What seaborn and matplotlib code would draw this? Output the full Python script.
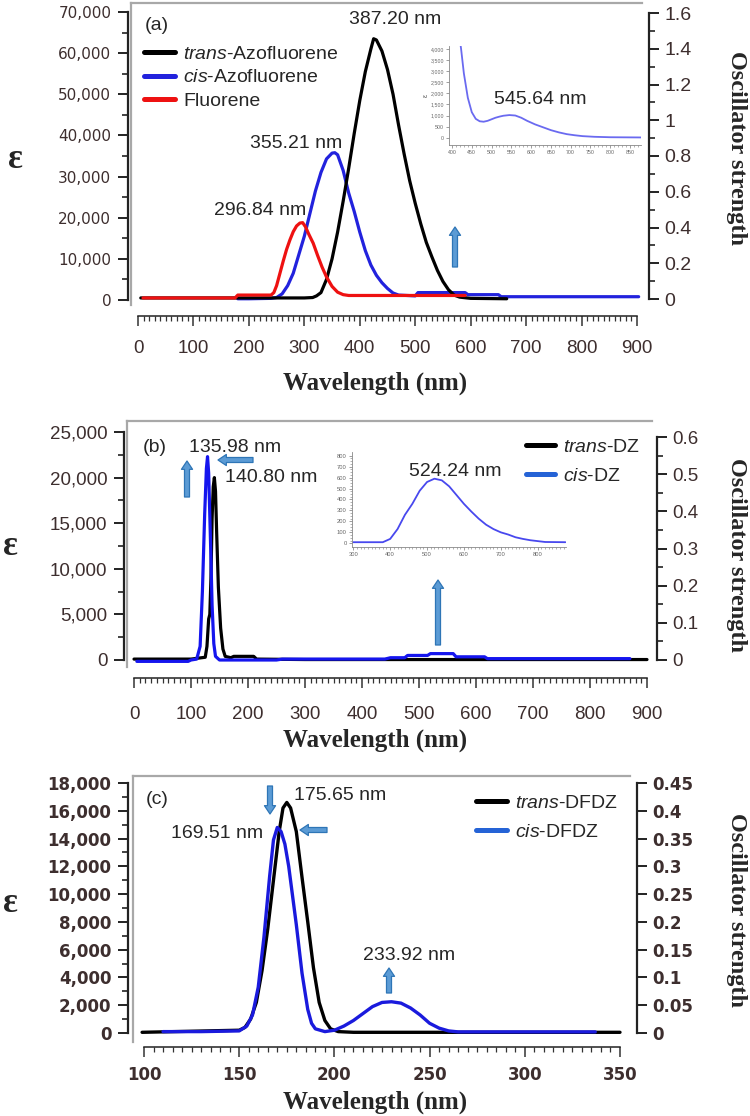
import numpy as np
import pandas as pd
import seaborn as sb
import matplotlib
matplotlib.use("Agg")
import matplotlib.pyplot as plt
from matplotlib.patches import FancyArrowPatch

W, H = 750, 1116

# ---------------- data ----------------
# (a) azofluorene / fluorene
a_trans_nm = [5, 100, 200, 300, 315, 322, 330, 340, 350, 360, 370, 380, 390, 400, 410, 420, 425,
              430, 440, 450, 460, 470, 480, 490, 500, 510, 520, 530, 540, 550, 560, 570, 580, 600, 665]
a_trans_eps = [500, 500, 500, 500, 600, 1000, 1800, 5000, 10000, 16500, 24000, 32000, 40500, 48500,
               55500, 61000, 63500, 63200, 60500, 56000, 50000, 42500, 35500, 29000, 23500, 18500,
               14000, 10500, 7200, 4500, 2500, 1200, 700, 400, 300]
a_cis_nm = [180, 200, 240, 250, 260, 270, 280, 290, 300, 310, 320, 330, 340, 350, 355, 360, 370, 380,
            390, 400, 410, 420, 430, 440, 450, 460, 470, 500, 505, 590, 595, 650, 655, 903]
a_cis_eps = [300, 300, 400, 600, 1500, 3500, 6500, 11000, 15500, 21000, 26500, 31000, 34300, 35700,
             35800, 35300, 31500, 26000, 21500, 16500, 12000, 8500, 6000, 4200, 2800, 1700, 1200, 1000,
             1800, 1800, 1300, 1300, 800, 800]
a_flu_nm = [9, 175, 180, 240, 245, 250, 256, 262, 268, 274, 280, 286, 292, 297, 302, 308, 316, 324,
            332, 340, 350, 360, 370, 380, 590]
a_flu_eps = [500, 500, 1200, 1200, 1800, 3500, 6500, 9500, 12300, 14600, 16600, 18000, 18700, 18800,
             17800, 16000, 13800, 10800, 8000, 5600, 3300, 1900, 1300, 1100, 1100]
# inset of (a): cis-azofluorene visible band
a_ins_nm = [420, 423, 430, 440, 450, 460, 470, 480, 490, 500, 510, 520, 530, 545, 560, 575, 590, 610,
            630, 650, 670, 690, 710, 730, 760, 800, 880]
a_ins_eps = [4400, 4000, 2900, 1800, 1150, 850, 740, 720, 760, 830, 900, 950, 990, 1020, 1000, 900,
             760, 600, 470, 340, 240, 160, 110, 70, 40, 20, 10]

# (b) DZ
b_trans_nm = [0, 100, 125, 128, 131, 133, 135, 137, 139, 141, 143, 145, 148, 152, 156, 160, 170,
              175, 210, 215, 300, 900]
b_trans_eps = [100, 100, 300, 1500, 4500, 5000, 9000, 15500, 19000, 20000, 18500, 14000, 8000,
               3500, 1200, 400, 250, 400, 400, 100, 50, 50]
b_cis_nm = [5, 95, 100, 110, 116, 120, 124, 127, 129, 131, 134, 137, 140, 143, 150, 250, 260, 440,
            450, 475, 480, 515, 520, 560, 565, 615, 620, 870]
b_cis_eps = [-150, -150, 0, 100, 1500, 7500, 16000, 21000, 22300, 20500, 13500, 6000, 1800, 400, 0,
             0, 100, 100, 250, 250, 500, 500, 700, 700, 350, 350, 150, 150]
b_ins_nm = [300, 380, 400, 420, 440, 460, 480, 500, 520, 540, 560, 580, 600, 620, 640, 660, 680, 700,
            720, 740, 760, 780, 800, 820, 875]
b_ins_eps = [10, 10, 40, 130, 260, 360, 480, 560, 590, 575, 520, 440, 360, 290, 225, 170, 130, 100,
             80, 55, 40, 28, 20, 12, 10]

# (c) DFDZ
c_trans_nm = [99, 150, 153, 156, 159, 162, 165, 168, 171, 173, 175, 177, 180, 183, 186, 189, 192,
              195, 198, 202, 210, 350]
c_trans_eps = [50, 200, 400, 1000, 2200, 4500, 7500, 11000, 14500, 16200, 16600, 16200, 14500,
               11200, 8000, 4700, 2200, 900, 300, 100, 50, 50]
c_cis_nm = [110, 130, 150, 154, 157, 160, 163, 166, 168, 170, 172, 174, 176, 178, 180, 183, 186, 188,
            190, 195, 200, 205, 210, 215, 220, 225, 230, 235, 240, 245, 250, 255, 260, 265, 337]
c_cis_eps = [100, 100, 150, 500, 1300, 3300, 6900, 11300, 13900, 14800, 14500, 13600, 12000, 9900,
             7800, 4300, 1700, 700, 300, 100, 200, 500, 900, 1400, 1900, 2200, 2250, 2150, 1800, 1300,
             700, 350, 150, 80, 80]

# ---------------- style ----------------
sb.set_style("white")
plt.rcParams["font.family"] = ["Liberation Sans", "DejaVu Sans"]
plt.rcParams["mathtext.fontset"] = "custom"
plt.rcParams["mathtext.rm"] = "Liberation Sans"
plt.rcParams["mathtext.it"] = "Liberation Sans:italic"

GREY = "#a8a8a8"
TICKC = "#3d2e2e"
SERIF = ["Liberation Serif", "DejaVu Serif"]
SANS = "Liberation Sans"

fig = plt.figure(figsize=(W / 100, H / 100), dpi=100)
fig.patch.set_facecolor("white")


def rect(x0, y0, x1, y1):
    return [x0 / W, 1 - y1 / H, (x1 - x0) / W, (y1 - y0) / H]


def lin(p0, v0, p1, v1):
    return lambda p: v0 + (p - p0) * (v1 - v0) / (p1 - p0)


def curve(ax, nm, eps, color, lw, label=None, z=2):
    df = pd.DataFrame({"nm": nm, "eps": eps})
    sb.lineplot(data=df, x="nm", y="eps", color=color, linewidth=lw, estimator=None,
                sort=False, ax=ax, label=label, legend=False, zorder=z)
    ln = ax.lines[-1]
    ln.set_solid_joinstyle("round")
    return ln


def ticks(lo, hi, step):
    return np.round(np.arange(lo, hi + step / 2, step), 4)


def panel(cfg):
    fx = lin(*cfg["xcal"])
    fy = lin(*cfg["ycal"])
    fo = lin(*cfg["ocal"])
    x0, y0, x1, y1 = cfg["frame"]
    r = rect(x0, y0, x1, y1)

    frame = fig.add_axes(r, label=cfg["name"] + "_frame")
    frame.set_xticks([])
    frame.set_yticks([])
    frame.patch.set_visible(False)
    for s in ("right", "bottom"):
        frame.spines[s].set_visible(False)
    for s in ("top", "left"):
        frame.spines[s].set_color(GREY)
        frame.spines[s].set_linewidth(1.6)

    ax = fig.add_axes(r, label=cfg["name"])
    ax.patch.set_visible(False)
    ax.set_zorder(frame.get_zorder() + 1)

    lpx, bpy, rpx = cfg["spines"]
    ax.spines["top"].set_visible(False)
    ax.spines["right"].set_visible(False)
    ax.spines["left"].set_position(("data", fx(lpx)))
    ax.spines["bottom"].set_position(("data", fy(bpy)))
    for s in ("left", "bottom"):
        ax.spines[s].set_color("#222222")
    ax.spines["left"].set_linewidth(1.6)
    ax.spines["bottom"].set_linewidth(1.1)

    xl, xh, xs, xm = cfg["xt"]
    yl, yh, ys, ym = cfg["yt"]
    ax.spines["bottom"].set_bounds(xl, xh)
    ax.spines["left"].set_bounds(yl, yh)

    fam, wt, sz = cfg["xfont"]
    xt = ticks(xl, xh, xs)
    ax.set_xticks(xt, labels=[f"{v:g}" for v in xt], fontfamily=fam, fontweight=wt,
                  fontsize=sz, color=TICKC)
    ax.set_xticks(ticks(xl, xh, xm), minor=True)
    fam, wt, sz = cfg["yfont"]
    yt = ticks(yl, yh, ys)
    ax.set_yticks(yt, labels=[f"{int(v):,}" for v in yt], fontfamily=fam, fontweight=wt,
                  fontsize=sz, color=TICKC)
    ax.set_yticks(ticks(yl, yh, ym), minor=True)
    ax.tick_params(axis="both", which="both", bottom=True, left=True, direction="out")
    ax.tick_params(axis="x", which="major", length=7, width=1.1, pad=cfg["xpad"], color="#333333")
    ax.tick_params(axis="x", which="minor", length=3.5, width=0.9, color="#333333")
    ax.tick_params(axis="y", which="major", length=7, width=1.4, pad=5, color="#222222")
    ax.tick_params(axis="y", which="minor", length=4, width=1.2, color="#222222")

    # right axis: oscillator strength
    axo = ax.twinx()
    for s in ("left", "top", "bottom"):
        axo.spines[s].set_visible(False)
    axo.spines["right"].set_position(("data", fx(rpx)))
    axo.spines["right"].set_linewidth(1.6)
    axo.spines["right"].set_color("#222222")
    ol, oh, os_, om = cfg["ot"]
    axo.spines["right"].set_bounds(ol, oh)
    fam, wt, sz = cfg["ofont"]
    ot = ticks(ol, oh, os_)
    axo.set_yticks(ot, labels=[f"{v:g}" for v in ot], fontfamily=fam, fontweight=wt,
                   fontsize=sz, color=TICKC)
    if om:
        axo.set_yticks(ticks(ol, oh, om), minor=True)
    axo.tick_params(axis="y", which="both", right=True, direction="out")
    axo.tick_params(axis="y", which="major", length=7, width=1.4, pad=4, color="#222222")
    axo.tick_params(axis="y", which="minor", length=4, width=1.2, color="#222222")
    axo.set_ylim(fo(y1), fo(y0))

    return ax, axo, (fx(x0), fx(x1)), (fy(y1), fy(y0))


def finish(ax, xlim, ylim):
    ax.set_xlim(*xlim)
    ax.set_ylim(*ylim)
    ax.set_xlabel("")
    ax.set_ylabel("")


def ftext(x, y, s, **kw):
    kw.setdefault("ha", "center")
    kw.setdefault("va", "center")
    fig.text(x / W, 1 - y / H, s, **kw)


def arrow(x0, y0, x1, y1):
    p = FancyArrowPatch((x0 / 100, (H - y0) / 100), (x1 / 100, (H - y1) / 100),
                        arrowstyle="simple,head_length=0.6,head_width=0.8,tail_width=0.36",
                        mutation_scale=10, fc="#5b9bd5", ec="#2e75b6", lw=0.9,
                        shrinkA=0, shrinkB=0, transform=fig.dpi_scale_trans)
    fig.add_artist(p)


def legend(ax, handles, x, y, spacing, hl):
    leg = ax.legend(handles=handles, loc="upper left", bbox_to_anchor=(x / W, 1 - y / H),
                    bbox_transform=fig.transFigure, frameon=False, fontsize=14,
                    handlelength=hl, handletextpad=0.4, labelspacing=spacing,
                    borderpad=0, borderaxespad=0)
    for ln in leg.get_lines():
        ln.set_linewidth(3.6)
    return leg


def axis_titles(xlab_y, eps_xy, osc_y):
    ftext(375, xlab_y, "Wavelength (nm)", family=SERIF, weight="bold", fontsize=18)
    ftext(eps_xy[0], eps_xy[1], "ε", family=SERIF, weight="bold", fontsize=25)
    ftext(737, osc_y, "Oscillator strength", family=SERIF, weight="bold", fontsize=17.5,
          rotation=270)


def inset_style(ins):
    ins.tick_params(which="both", bottom=True, left=True, direction="out")
    ins.tick_params(which="major", length=2, width=0.5, pad=1.5, color="#777777")
    ins.tick_params(which="minor", length=1.2, width=0.4, color="#777777")
    for s in ("top", "right"):
        ins.spines[s].set_visible(False)
    for s in ("left", "bottom"):
        ins.spines[s].set_color("#888888")
        ins.spines[s].set_linewidth(0.6)
    ins.set_xlabel("")
    ins.set_ylabel("")


# ================= panel (a) =================
cfg_a = dict(name="a", frame=(131, 3, 642, 305), xcal=(138, 0, 637, 900),
             ycal=(300, 0, 12, 70000), ocal=(299, 0, 13, 1.6), spines=(128, 316, 649),
             xt=(0, 900, 100, 10), yt=(0, 70000, 10000, 5000), ot=(0, 1.6, 0.2, 0.1),
             xfont=(SANS, "normal", 13.5), yfont=("DejaVu Sans", "normal", 11),
             ofont=(SANS, "normal", 14), xpad=10)
ax, axo, xlim, ylim = panel(cfg_a)
l_cis = curve(ax, a_cis_nm, a_cis_eps, "#2222dd", 2.3, r"$\it{cis}$-Azofluorene", z=2)
l_trans = curve(ax, a_trans_nm, a_trans_eps, "#000000", 2.3, r"$\it{trans}$-Azofluorene", z=3)
l_flu = curve(ax, a_flu_nm, a_flu_eps, "#ee1111", 2.3, "Fluorene", z=4)
finish(ax, xlim, ylim)
legend(ax, [l_trans, l_cis, l_flu], 144, 45, 0.32, 1.6)
ftext(157, 25, "(a)", fontsize=14)
ftext(395, 20, "387.20 nm", fontsize=14)
ftext(296, 143, "355.21 nm", fontsize=14)
ftext(260, 210, "296.84 nm", fontsize=14)
axis_titles(383, (15, 160), 148)
arrow(455, 267, 455, 227)

# inset (a)
fx_i = lin(452, 400, 630, 850)
fy_i = lin(138, 0, 49, 4000)
ins = fig.add_axes(rect(449, 46, 641, 145), label="inset_a")
ins.patch.set_visible(False)
curve(ins, a_ins_nm, a_ins_eps, "#6a6af0", 1.3)
ins.set_xlim(fx_i(449), fx_i(641))
ins.set_ylim(-330, fy_i(46))
ins.set_xticks(ticks(400, 850, 50), labels=[f"{v:g}" for v in ticks(400, 850, 50)],
               fontsize=3.8, color="#666666")
ins.set_xticks(ticks(400, 870, 10), minor=True)
ins.set_yticks(ticks(0, 4000, 500), labels=[f"{int(v):,}" for v in ticks(0, 4000, 500)],
               fontsize=3.8, color="#666666")
inset_style(ins)
ins.set_ylabel("ε", fontsize=5, labelpad=1, color="#555555")
ftext(540, 99, "545.64 nm", fontsize=14)

# ================= panel (b) =================
cfg_b = dict(name="b", frame=(127, 421, 652, 667), xcal=(134, 0, 647, 900),
             ycal=(660, 0, 432, 25000), ocal=(660, 0, 437, 0.6), spines=(124, 678, 657),
             xt=(0, 900, 100, 10), yt=(0, 25000, 5000, 2500), ot=(0, 0.6, 0.1, 0.05),
             xfont=(SANS, "normal", 13.5), yfont=(SANS, "normal", 13.5),
             ofont=(SANS, "normal", 13.5), xpad=13)
ax, axo, xlim, ylim = panel(cfg_b)
l_trans = curve(ax, b_trans_nm, b_trans_eps, "#000000", 2.3, r"$\it{trans}$-DZ", z=2)
l_cis = curve(ax, b_cis_nm, b_cis_eps, "#1515ee", 2.3, r"$\it{cis}$-DZ", z=3)
finish(ax, xlim, ylim)
leg = legend(ax, [l_trans, l_cis], 526, 438, 0.6, 1.5)
leg.get_lines()[1].set_color("#2563d6")
ftext(155, 448, "(b)", fontsize=14)
ftext(235, 447, "135.98 nm", fontsize=14)
ftext(271, 478, "140.80 nm", fontsize=14)
axis_titles(740, (10, 547), 555)
arrow(187, 497, 187, 461)
arrow(253, 460, 218, 460)
arrow(438, 645, 438, 580)

# inset (b)
fx_i = lin(353.3, 300, 537.7, 800)
fy_i = lin(543.3, 0, 455.7, 800)
ins = fig.add_axes(rect(351.7, 452, 566, 547), label="inset_b")
ins.patch.set_visible(False)
curve(ins, b_ins_nm, b_ins_eps, "#4848ee", 1.3)
ins.set_xlim(fx_i(351.7), fx_i(566))
ins.set_ylim(fy_i(547), fy_i(452))
ins.set_xticks(ticks(300, 800, 100), labels=[f"{v:g}" for v in ticks(300, 800, 100)],
               fontsize=4.2, color="#666666")
ins.set_xticks(ticks(300, 870, 10), minor=True)
ins.set_yticks(ticks(0, 800, 100), labels=[f"{int(v)}" for v in ticks(0, 800, 100)],
               fontsize=4.2, color="#666666")
ins.set_yticks(ticks(0, 800, 25), minor=True)
inset_style(ins)
ftext(455, 471, "524.24 nm", fontsize=14)

# ================= panel (c) =================
cfg_c = dict(name="c", frame=(133, 776, 630, 1042), xcal=(144, 100, 620, 350),
             ycal=(1033, 0, 783, 18000), ocal=(1033, 0, 783, 0.45), spines=(128, 1047, 637),
             xt=(100, 350, 50, 5), yt=(0, 18000, 2000, 1000), ot=(0, 0.45, 0.05, None),
             xfont=("DejaVu Sans", "bold", 12), yfont=("DejaVu Sans", "bold", 12),
             ofont=("DejaVu Sans", "bold", 12), xpad=7)
ax, axo, xlim, ylim = panel(cfg_c)
l_trans = curve(ax, c_trans_nm, c_trans_eps, "#000000", 2.4, r"$\it{trans}$-DFDZ", z=2)
l_cis = curve(ax, c_cis_nm, c_cis_eps, "#1a1add", 2.4, r"$\it{cis}$-DFDZ", z=3)
finish(ax, xlim, ylim)
leg = legend(ax, [l_trans, l_cis], 476, 794, 0.6, 1.6)
leg.get_lines()[1].set_color("#2563d6")
ftext(157, 800, "(c)", fontsize=14)
ftext(340, 795, "175.65 nm", fontsize=14)
ftext(217, 833, "169.51 nm", fontsize=14)
ftext(409, 955, "233.92 nm", fontsize=14)
axis_titles(1102, (10, 903), 910)
arrow(270, 786, 270, 814)
arrow(327, 830, 300, 830)
arrow(389, 993, 389, 968)

fig.savefig("out.png", dpi=100)
